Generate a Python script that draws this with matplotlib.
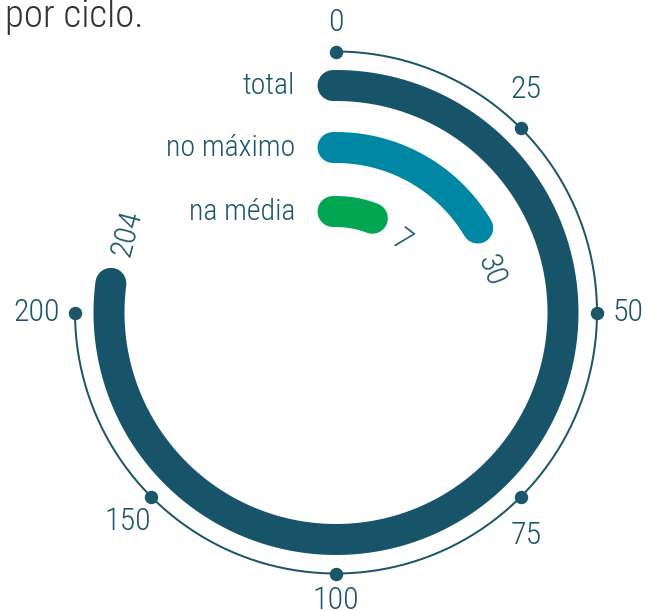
import numpy as np
import matplotlib
matplotlib.use("Agg")
import matplotlib.pyplot as plt

# data
series = ["total", "no máximo", "na média"]
values = [204, 30, 7]
colors = ["#17546a", "#0087a3", "#00a651"]

tick_values = [0, 25, 50, 75, 100, 150, 200]
# the scale is not linear: 0-100 takes half a turn, 100-200 a quarter
scale_values = [0, 100, 200, 300]
scale_degrees = [0, 180, 270, 360]

text_color = "#1b5669"
plt.rcParams["font.family"] = ["Roboto Condensed", "DejaVu Sans"]
plt.rcParams["font.weight"] = "light"

W, H, dpi = 659, 611, 100
cx, cy = 336, 312.5        # centre of the dial, pixels from top-left
R = 300                     # axes half size in pixels


def theta(v):
    return np.deg2rad(np.interp(v, scale_values, scale_degrees))


fig = plt.figure(figsize=(W / dpi, H / dpi), dpi=dpi)
ax = fig.add_axes([(cx - R) / W, (H - cy - R) / H, 2 * R / W, 2 * R / H],
                  projection="polar")
ax.set_theta_zero_location("N")
ax.set_theta_direction(-1)
ax.set_ylim(0, R)
ax.axis("off")

px = 72 / dpi  # points per pixel
ring_r = 261
bar_r = [227, 165, 101]
bar_w = 31

# outer scale ring with dots
t = np.linspace(theta(0), theta(tick_values[-1]), 400)
ax.plot(t, np.full_like(t, ring_r), color=text_color, lw=2 * px)
ax.plot(theta(np.array(tick_values)), [ring_r] * len(tick_values), "o",
        color=text_color, ms=12 * px, clip_on=False)

label_nudge = {25: -4.5, 75: 4.5}
label_r = {0: 290, 50: 292, 100: 288, 150: 295, 200: 299}
for v in tick_values:
    a = theta(v) + np.deg2rad(label_nudge.get(v, 0))
    ax.text(a, label_r.get(v, 293), str(v), ha="center", va="center",
            fontsize=23, color=text_color, clip_on=False)

# bars (rounded ends sit a bit past the value, like in the original)
for name, v, c, r in zip(series, values, colors, bar_r):
    t = np.linspace(-3 / r, theta(v) + 15 / r, 300)
    ax.plot(t, np.full_like(t, r), color=c, lw=bar_w * px,
            solid_capstyle="round", clip_on=False)
    ax.annotate(name, (0, r), xytext=(-41, -1), textcoords="offset pixels",
                ha="right", va="center", fontsize=21.5, color=text_color)
    a_lab = theta(v) + 44 / r
    ax.text(a_lab, r - 5, str(v), rotation=-np.rad2deg(a_lab),
            rotation_mode="anchor", ha="left", va="center",
            fontsize=23, color=text_color, clip_on=False)

fig.text(5 / W, 1 - 27 / H, "por ciclo.", ha="left", va="baseline",
         fontsize=28, color="#333333")

fig.savefig("out.png", dpi=dpi)
